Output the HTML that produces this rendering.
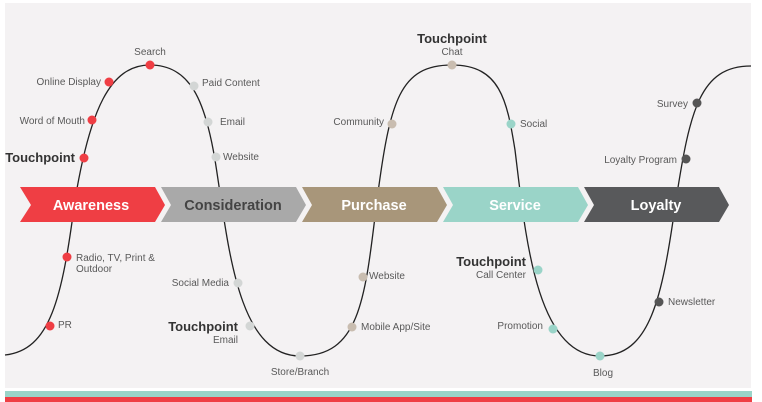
<!DOCTYPE html>
<html><head><meta charset="utf-8"><style>
html,body{margin:0;padding:0;background:#fff;}
svg{display:block;font-family:"Liberation Sans",sans-serif;}
.l{font-size:10px;fill:#595959;}
.t{font-size:13px;font-weight:bold;fill:#333;}
.c{font-size:14.5px;font-weight:bold;fill:#fff;}
</style></head><body>
<svg width="762" height="402" viewBox="0 0 762 402">
<rect x="5" y="3" width="746" height="385" fill="#f4f2f3"/>
<rect x="5" y="391" width="747" height="6" fill="#9ad4c8"/>
<rect x="5" y="397" width="747" height="5" fill="#ef3e44"/>
<path d="M5,355 C50,350 62,300 75,200 C90,110 110,65 150,65 C190,65 205,100 215,160 C228,240 236,356 300,356 C360,356 365,300 377,200 C390,100 400,65 452,65 C500,65 507,100 515,150 C525,230 535,356 600,356 C650,356 662,300 676,200 C690,110 700,66 751,66" fill="none" stroke="#222" stroke-width="1.3"/>
<polygon points="20,187 155,187 165,205 155,222 20,222 31,205" fill="#ef3e44"/>
<polygon points="161,187 296,187 306,205 296,222 161,222 171,205" fill="#a9a9a9"/>
<polygon points="302,187 437,187 447,205 437,222 302,222 312,205" fill="#a8967a"/>
<polygon points="443,187 578,187 588,205 578,222 443,222 453,205" fill="#9ad4c8"/>
<polygon points="584,187 719,187 729,205 719,222 584,222 594,205" fill="#58595b"/>
<text class="c" x="91" y="210" text-anchor="middle">Awareness</text>
<text class="c" x="233" y="210" text-anchor="middle" style="fill:#444">Consideration</text>
<text class="c" x="374" y="210" text-anchor="middle">Purchase</text>
<text class="c" x="515" y="210" text-anchor="middle">Service</text>
<text class="c" x="656" y="210" text-anchor="middle">Loyalty</text>
<g fill="#ef3e44">
<circle cx="50" cy="326" r="4.5"/><circle cx="67" cy="257" r="4.5"/><circle cx="84" cy="158" r="4.5"/><circle cx="92" cy="120" r="4.5"/><circle cx="109" cy="82" r="4.5"/><circle cx="150" cy="65" r="4.5"/>
</g>
<g fill="#d3d6d5">
<circle cx="194" cy="86" r="4.5"/><circle cx="208" cy="122" r="4.5"/><circle cx="216" cy="157" r="4.5"/><circle cx="238" cy="283" r="4.5"/><circle cx="250" cy="326" r="4.5"/><circle cx="300" cy="356" r="4.5"/>
</g>
<g fill="#c9bdb0">
<circle cx="352" cy="327" r="4.5"/><circle cx="363" cy="277" r="4.5"/><circle cx="392" cy="124" r="4.5"/><circle cx="452" cy="65" r="4.5"/>
</g>
<g fill="#9ad4c8">
<circle cx="511" cy="124" r="4.5"/><circle cx="538" cy="270" r="4.5"/><circle cx="553" cy="329" r="4.5"/><circle cx="600" cy="356" r="4.5"/>
</g>
<g fill="#555">
<circle cx="659" cy="302" r="4.5"/><circle cx="686" cy="159" r="4.5"/><circle cx="697" cy="103" r="4.5"/>
</g>
<text class="l" x="150" y="55" text-anchor="middle">Search</text>
<text class="l" x="101" y="85" text-anchor="end">Online Display</text>
<text class="l" x="85" y="124" text-anchor="end">Word of Mouth</text>
<text class="t" x="75" y="162" text-anchor="end">Touchpoint</text>
<text class="l" x="76" y="261">Radio, TV, Print &amp;</text>
<text class="l" x="76" y="272">Outdoor</text>
<text class="l" x="58" y="328">PR</text>
<text class="l" x="202" y="86">Paid Content</text>
<text class="l" x="220" y="125">Email</text>
<text class="l" x="223" y="160">Website</text>
<text class="l" x="229" y="286" text-anchor="end">Social Media</text>
<text class="t" x="238" y="331" text-anchor="end">Touchpoint</text>
<text class="l" x="238" y="343" text-anchor="end">Email</text>
<text class="l" x="300" y="375" text-anchor="middle">Store/Branch</text>
<text class="l" x="361" y="330">Mobile App/Site</text>
<text class="l" x="369" y="279">Website</text>
<text class="l" x="384" y="125" text-anchor="end">Community</text>
<text class="t" x="452" y="43" text-anchor="middle">Touchpoint</text>
<text class="l" x="452" y="55" text-anchor="middle">Chat</text>
<text class="l" x="520" y="127">Social</text>
<text class="t" x="526" y="266" text-anchor="end">Touchpoint</text>
<text class="l" x="526" y="278" text-anchor="end">Call Center</text>
<text class="l" x="543" y="329" text-anchor="end">Promotion</text>
<text class="l" x="603" y="376" text-anchor="middle">Blog</text>
<text class="l" x="668" y="305">Newsletter</text>
<text class="l" x="677" y="163" text-anchor="end">Loyalty Program</text>
<text class="l" x="688" y="107" text-anchor="end">Survey</text>
</svg>
</body></html>
